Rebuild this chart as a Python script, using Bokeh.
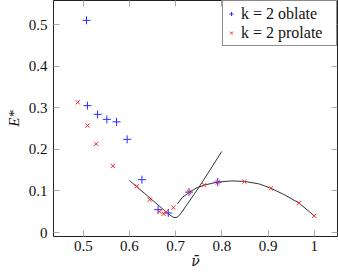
from bokeh.plotting import figure
from bokeh.models import Range1d, FixedTicker, LinearAxis, Legend, LegendItem, CustomJSTickFormatter
from bokeh.embed import file_html
from bokeh.resources import INLINE

oblate_x = [0.507, 0.509, 0.531, 0.551, 0.572, 0.595, 0.627, 0.662, 0.684, 0.729, 0.791]
oblate_y = [0.510, 0.305, 0.284, 0.272, 0.266, 0.224, 0.127, 0.055, 0.047, 0.097, 0.121]

prolate_x = [0.488, 0.509, 0.528, 0.564, 0.616, 0.644, 0.665, 0.674, 0.679, 0.695, 0.729,
             0.762, 0.791, 0.849, 0.906, 0.967, 1.000]
prolate_y = [0.313, 0.257, 0.213, 0.160, 0.111, 0.079, 0.050, 0.045, 0.049, 0.060, 0.097,
             0.114, 0.121, 0.122, 0.106, 0.071, 0.040]

fit1_x = [0.600, 0.640, 0.680, 0.690, 0.696, 0.701, 0.706, 0.712, 0.750, 0.800]
fit1_y = [0.125, 0.087, 0.049, 0.040, 0.036, 0.036, 0.039, 0.047, 0.108, 0.195]

fit2_x = [0.704, 0.715, 0.730, 0.745, 0.762, 0.790, 0.820, 0.848, 0.880, 0.905, 0.935, 0.967, 1.000]
fit2_y = [0.069, 0.085, 0.097, 0.107, 0.114, 0.121, 0.124, 0.123, 0.117, 0.107, 0.091, 0.071, 0.040]

x_ticks = [0.5, 0.6, 0.7, 0.8, 0.9, 1.0]
y_ticks = [0.0, 0.1, 0.2, 0.3, 0.4, 0.5]

FONT = "'Liberation Serif', 'Times New Roman', serif"

p = figure(width=338, height=278, output_backend="svg", toolbar_location=None,
           x_range=Range1d(0.4355, 1.0504), y_range=Range1d(-0.0096, 0.5577),
           min_border_left=53, min_border_right=1, min_border_top=0, min_border_bottom=42)

p.grid.visible = False
p.outline_line_color = "#222222"
p.outline_line_width = 1
p.background_fill_color = "white"
p.border_fill_color = "white"

for ax in (p.xaxis[0], p.yaxis[0]):
    ax.axis_line_color = None
    ax.major_tick_in = 6
    ax.major_tick_out = 0
    ax.minor_tick_line_color = None
    ax.major_tick_line_color = "#aaaaaa"
    ax.major_label_text_font = FONT
    ax.major_label_text_font_size = "15px"
    ax.major_label_text_color = "#111111"
    ax.axis_label_text_font = FONT
    ax.axis_label_text_font_size = "15px"
    ax.axis_label_text_font_style = "italic"
    ax.axis_label_text_color = "#111111"

p.xaxis[0].ticker = FixedTicker(ticks=x_ticks)
p.yaxis[0].ticker = FixedTicker(ticks=y_ticks)
p.xaxis[0].major_label_overrides = {1.0: "1"}
p.yaxis[0].major_label_overrides = {0.0: "0"}
p.xaxis[0].major_label_standoff = 4
p.yaxis[0].major_label_standoff = 6
p.xaxis[0].axis_label = "\u03bd\u0304"
p.xaxis[0].axis_label_text_font = "'DejaVu Serif', serif"
p.xaxis[0].axis_label_text_font_size = "14px"
p.xaxis[0].axis_label_standoff = -1
p.yaxis[0].axis_label = "E*"
p.yaxis[0].axis_label_standoff = 4

# mirrored ticks on top and right
for loc, tk in (("above", x_ticks), ("right", y_ticks)):
    a = LinearAxis(ticker=FixedTicker(ticks=tk), major_tick_in=6, major_tick_out=0,
                   major_tick_line_color="#aaaaaa", minor_tick_line_color=None,
                   axis_line_color=None, formatter=CustomJSTickFormatter(code="return ''"),
                   major_label_standoff=0)
    p.add_layout(a, loc)

p.line(fit1_x, fit1_y, line_color="#333333", line_width=1)
p.line(fit2_x, fit2_y, line_color="#333333", line_width=1)

r1 = p.scatter(oblate_x, oblate_y, marker="cross", size=8, line_color="#2b2bff", line_width=1)
r2 = p.scatter(prolate_x, prolate_y, marker="x", size=6, line_color="#ff2b2b", line_width=1)

legend = Legend(items=[LegendItem(label="k = 2 oblate", renderers=[r1]),
                       LegendItem(label="k = 2 prolate", renderers=[r2])],
                location="top_right", margin=0, padding=3, spacing=0,
                glyph_width=10, glyph_height=19, label_height=19, label_width=92,
                label_standoff=5,
                label_text_font=FONT, label_text_font_size="16px",
                label_text_color="#111111",
                border_line_color="#222222", border_line_width=1)
p.add_layout(legend)

open("out.html", "w").write(file_html(p, INLINE))
